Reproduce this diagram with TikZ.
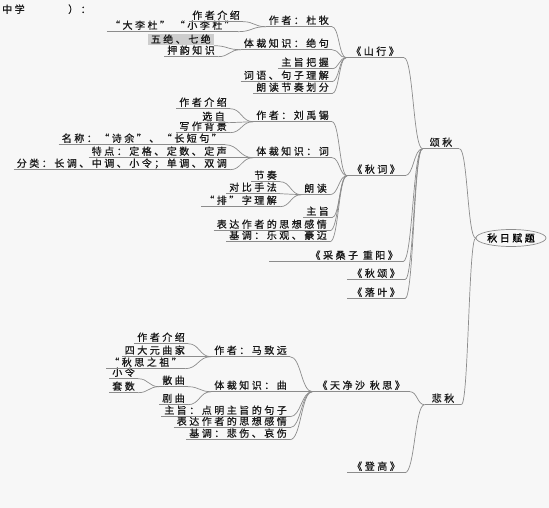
\documentclass[tikz,border=0pt]{standalone}
\usepackage{fontspec}
\newfontfamily\cjk[LetterSpace=25,FakeBold=0.8]{Noto Sans CJK SC}
\usetikzlibrary{calc,shapes.geometric}
\definecolor{bg}{RGB}{247,247,247}
\definecolor{ln}{RGB}{140,140,140}
\definecolor{boxg}{RGB}{205,205,205}
\tikzset{
  t/.style={font=\cjk\fontsize{10}{11}\selectfont, inner xsep=3pt, inner ysep=1pt,
            text height=7.5pt, text depth=1.5pt, anchor=east, text=black!90},
  top/.style={t, inner xsep=5pt},
  conn/.style={draw=ln, line width=0.7pt},
}
\newcommand\ul[1]{\draw[conn] (#1.south west) -- (#1.south east);}
\newcommand\cn[2]{\path ($(#1.south west)!0.5!(#2.south east)$) coordinate (cm);
  \draw[conn] (#1.south west) .. controls (cm |- #1.south west) and (cm |- #2.south east) .. (#2.south east);}
\begin{document}
\begin{tikzpicture}[x=1pt,y=-1pt]
\fill[bg] (0,0) rectangle (549,508);
\useasboundingbox (0,0) rectangle (549,508);

% watermark
\node[t, anchor=west, inner xsep=0pt] (wm1) at (2,10) {中学};
\node[t, anchor=west, inner xsep=0pt] (wm2) at (68,10) {）：};

% root
\node[draw=ln, line width=0.7pt, ellipse, font=\cjk\fontsize{10}{11}\selectfont, inner sep=1pt,
      minimum width=63pt, minimum height=17pt] (root) at (511,238) {秋日赋题};

% categories
\node[t, anchor=center, inner xsep=7pt] (song) at (441,143) {颂秋};
\node[t, anchor=center, inner xsep=7pt] (bei) at (443,399) {悲秋};

% poems
\node[top] (shan) at (404,52) {《山行》};
\node[top] (qc) at (405,170) {《秋词》};
\node[top] (csz) at (403,256) {《采桑子 重阳》};
\node[top] (qs) at (405,274) {《秋颂》};
\node[top] (ly) at (405,293) {《落叶》};
\node[top] (tjs) at (410,386) {《天净沙 秋思》};
\node[top] (dg) at (405,467) {《登高》};

% shan xing children
\node[t] (s1) at (332,21) {作者：杜牧};
\node[t] (s2) at (332,44) {体裁知识：绝句};
\node[t] (s3) at (332,63) {主旨把握};
\node[t] (s4) at (332,76) {词语、句子理解};
\node[t] (s5) at (332,88) {朗读节奏划分};
\node[t] (s11) at (243,16) {作者介绍};
\node[t] (s12) at (238,26) {“大李杜” “小李杜”};
\node[t, fill=boxg, inner ysep=1pt] (s21) at (214,40) {五绝、七绝};
\node[t] (s22) at (218,51) {押韵知识};

% qiu ci children
\node[t] (q1) at (332,116) {作者：刘禹锡};
\node[t] (q2) at (332,152) {体裁知识：词};
\node[t] (q3) at (330,189) {朗读};
\node[t] (q4) at (332,212) {主旨};
\node[t] (q5) at (330,225) {表达作者的思想感情};
\node[t] (q6) at (330,236) {基调：乐观、豪迈};
\node[t] (q11) at (230,103) {作者介绍};
\node[t] (q12) at (228,117) {选自};
\node[t] (q13) at (230,127) {写作背景};
\node[t] (q21) at (225,139) {名称：“诗余”、“长短句”};
\node[t] (q22) at (230,152) {特点：定格、定数、定声};
\node[t] (q23) at (230,164) {分类：长调、中调、小令；单调、双调};
\node[t] (q31) at (280,176) {节奏};
\node[t] (q32) at (280,188) {对比手法};
\node[t] (q33) at (280,201) {“排”字理解};

% tian jing sha children
\node[t] (t1) at (290,351) {作者：马致远};
\node[t] (t2) at (290,386) {体裁知识：曲};
\node[t] (t3) at (290,411) {主旨：点明主旨的句子};
\node[t] (t4) at (290,422) {表达作者的思想感情};
\node[t] (t5) at (290,434) {基调：悲伤、哀伤};
\node[t] (t11) at (188,338) {作者介绍};
\node[t] (t12) at (188,351) {四大元曲家};
\node[t] (t13) at (185,363) {“秋思之祖”};
\node[t] (t21) at (188,381) {散曲};
\node[t] (t22) at (188,399) {剧曲};
\node[t] (t211) at (138,373) {小令};
\node[t] (t212) at (138,387) {套数};

% underlines
\foreach \n in {song,bei,shan,qc,qs,ly,tjs,dg,s1,s2,s3,s4,s5,s11,s12,s22,
  q1,q2,q3,q4,q5,q6,q11,q12,q13,q21,q22,q23,q31,q32,q33,
  t1,t2,t3,t4,t5,t11,t12,t13,t21,t22,t211,t212}{\ul{\n}}
\draw[conn] ([xshift=-36pt]csz.south west) -- (csz.south east);

% root connectors
\path ($(root.west)!0.5!(song.south east)$) coordinate (cm);
\draw[conn] (root.west) .. controls (cm |- root.west) and (cm |- song.south east) .. (song.south east);
\path ($(root.west)!0.5!(bei.south east)$) coordinate (cm);
\draw[conn] (root.west) .. controls (cm |- root.west) and (cm |- bei.south east) .. (bei.south east);

% connectors
\foreach \c in {shan,qc,csz,qs,ly}{\cn{song}{\c}}
\foreach \c in {tjs,dg}{\cn{bei}{\c}}
\foreach \c in {s1,s2,s3,s4,s5}{\cn{shan}{\c}}
\foreach \c in {s11,s12}{\cn{s1}{\c}}
\foreach \c in {s21,s22}{\cn{s2}{\c}}
\foreach \c in {q1,q2,q3,q4,q5,q6}{\cn{qc}{\c}}
\foreach \c in {q11,q12,q13}{\cn{q1}{\c}}
\foreach \c in {q21,q22,q23}{\cn{q2}{\c}}
\foreach \c in {q31,q32,q33}{\cn{q3}{\c}}
\foreach \c in {t1,t2,t3,t4,t5}{\cn{tjs}{\c}}
\foreach \c in {t11,t12,t13}{\cn{t1}{\c}}
\foreach \c in {t21,t22}{\cn{t2}{\c}}
\foreach \c in {t211,t212}{\cn{t21}{\c}}
\end{tikzpicture}
\end{document}
